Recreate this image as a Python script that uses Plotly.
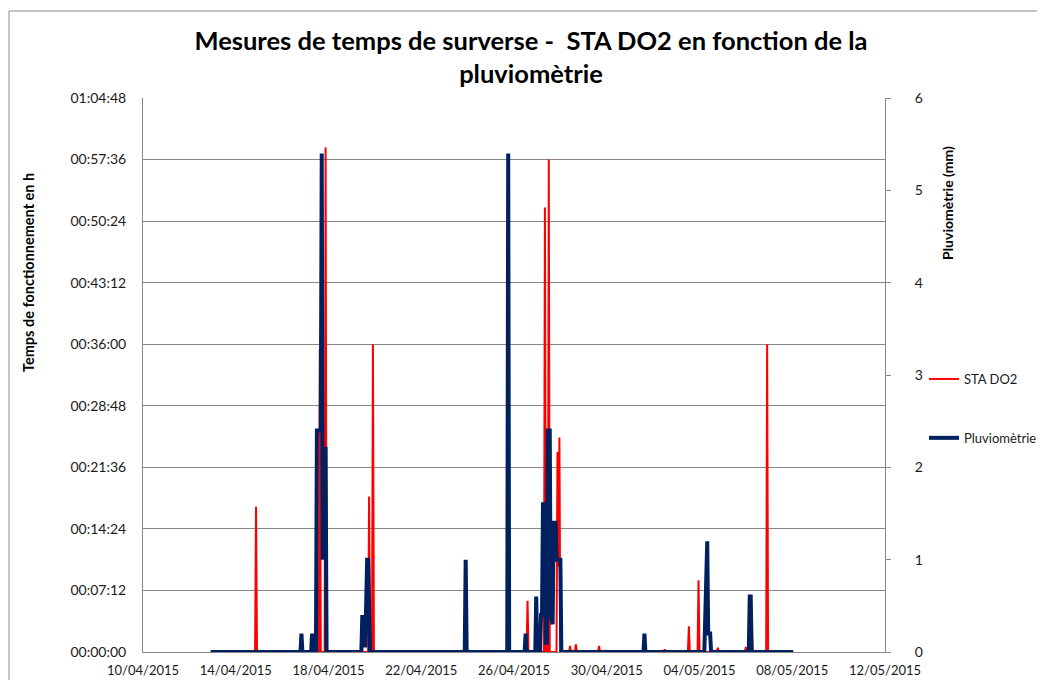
import plotly.graph_objects as go

# ---------------- data ----------------
sta_time = [
    "2015-04-13 00:00", "2015-04-14 20:00", "2015-04-14 21:00", "2015-04-14 22:00",
    "2015-04-17 14:00", "2015-04-17 15:00", "2015-04-17 16:00", "2015-04-17 20:00",
    "2015-04-17 21:00", "2015-04-17 22:00",
    "2015-04-19 17:00", "2015-04-19 18:00", "2015-04-19 19:00", "2015-04-19 21:00",
    "2015-04-19 22:00", "2015-04-19 23:00",
    "2015-04-26 13:00", "2015-04-26 14:00", "2015-04-26 15:00",
    "2015-04-27 07:00", "2015-04-27 08:00", "2015-04-27 09:00", "2015-04-27 10:00",
    "2015-04-27 11:00", "2015-04-27 12:00", "2015-04-27 13:00",
    "2015-04-27 20:00", "2015-04-27 21:00", "2015-04-27 22:00", "2015-04-27 23:00",
    "2015-04-28 00:00",
    "2015-04-28 09:00", "2015-04-28 10:00", "2015-04-28 11:00",
    "2015-04-28 15:00", "2015-04-28 16:00", "2015-04-28 17:00",
    "2015-04-29 15:00", "2015-04-29 16:00", "2015-04-29 17:00",
    "2015-04-29 22:00", "2015-04-29 23:00", "2015-04-30 00:00",
    "2015-05-02 11:00", "2015-05-02 12:00", "2015-05-02 13:00",
    "2015-05-03 12:00", "2015-05-03 13:00", "2015-05-03 14:00",
    "2015-05-03 22:00", "2015-05-03 23:00", "2015-05-04 00:00",
    "2015-05-04 18:00", "2015-05-04 19:00", "2015-05-04 20:00",
    "2015-05-05 23:00", "2015-05-06 00:00", "2015-05-06 01:00",
    "2015-05-06 05:00", "2015-05-06 06:00", "2015-05-06 07:00",
    "2015-05-06 21:00", "2015-05-06 22:00", "2015-05-06 23:00",
    "2015-05-08 01:00",
]
# overflow duration, in minutes
sta_minutes = [
    0, 0, 17.0, 0,
    0, 35.4, 0, 0,
    59.0, 0,
    0, 18.2, 0, 0,
    36.0, 0,
    0, 6.0, 0,
    0, 52.0, 0, 8.3,
    0, 57.6, 0,
    0, 23.4, 10.0, 25.1,
    0,
    0, 0.7, 0,
    0, 0.9, 0,
    0, 0.7, 0,
    0, 0.2, 0,
    0, 0.3, 0,
    0, 3.0, 0,
    0, 8.4, 0,
    0, 0.5, 0,
    0, 0.6, 0,
    0, 3.2, 0,
    0, 36.0, 0,
    0,
]

pluvio_time = [
    "2015-04-12 22:00",
    "2015-04-16 19:00", "2015-04-16 20:00", "2015-04-16 21:00",
    "2015-04-17 06:00", "2015-04-17 07:00", "2015-04-17 08:00",
    "2015-04-17 11:00", "2015-04-17 12:00", "2015-04-17 16:00", "2015-04-17 17:00",
    "2015-04-17 18:00", "2015-04-17 19:00", "2015-04-17 21:00", "2015-04-17 22:00",
    "2015-04-19 10:00", "2015-04-19 11:00", "2015-04-19 14:00", "2015-04-19 16:00",
    "2015-04-19 17:00", "2015-04-19 19:00",
    "2015-04-23 21:00", "2015-04-23 22:00", "2015-04-23 23:00",
    "2015-04-25 17:00", "2015-04-25 18:00", "2015-04-25 19:00",
    "2015-04-26 11:00", "2015-04-26 12:00", "2015-04-26 13:00",
    "2015-04-26 22:00", "2015-04-26 23:00", "2015-04-27 00:00",
    "2015-04-27 03:00", "2015-04-27 04:00", "2015-04-27 05:00", "2015-04-27 06:00",
    "2015-04-27 08:00", "2015-04-27 09:00", "2015-04-27 10:00", "2015-04-27 11:00",
    "2015-04-27 13:00", "2015-04-27 14:00", "2015-04-27 16:00", "2015-04-27 17:00",
    "2015-04-27 19:00", "2015-04-27 20:00", "2015-04-28 00:00", "2015-04-28 01:00",
    "2015-05-01 14:00", "2015-05-01 15:00", "2015-05-01 16:00",
    "2015-05-04 05:00", "2015-05-04 07:00", "2015-05-04 08:00", "2015-05-04 09:00",
    "2015-05-04 11:00", "2015-05-04 12:00",
    "2015-05-06 03:00", "2015-05-06 04:00", "2015-05-06 05:00", "2015-05-06 06:00",
    "2015-05-08 01:00",
]
pluvio_mm = [
    0,
    0, 0.2, 0,
    0, 0.2, 0,
    0, 2.4, 2.4, 5.4,
    1.0, 2.2, 2.2, 0,
    0, 0.4, 0.05, 1.0,
    1.0, 0,
    0, 1.0, 0,
    0, 5.4, 0,
    0, 0.2, 0,
    0, 0.6, 0,
    0, 0.4, 0.4, 1.6,
    1.6, 0.1, 0.1, 2.4,
    2.4, 0.4, 0.3, 1.4,
    1.4, 1.0, 1.0, 0,
    0, 0.2, 0,
    0, 1.2, 1.2, 0.2,
    0.2, 0,
    0, 0.6, 0.6, 0,
    0,
]

x_tick_dates = ["2015-04-10", "2015-04-14", "2015-04-18", "2015-04-22", "2015-04-26",
                "2015-04-30", "2015-05-04", "2015-05-08", "2015-05-12"]
x_tick_labels = ["10/04/2015", "14/04/2015", "18/04/2015", "22/04/2015", "26/04/2015",
                 "30/04/2015", "04/05/2015", "08/05/2015", "12/05/2015"]
y_tick_minutes = [0, 7.2, 14.4, 21.6, 28.8, 36.0, 43.2, 50.4, 57.6, 64.8]
y_tick_labels = ["00:00:00", "00:07:12", "00:14:24", "00:21:36", "00:28:48",
                 "00:36:00", "00:43:12", "00:50:24", "00:57:36", "01:04:48"]

# ---------------- figure ----------------
# The page body adds an 8px margin, so the figure is 8px smaller than the window
OFF = 8
W, H = 1045 - OFF, 680 - OFF
# plot area in window pixels
L, R, T, B = 143, 885, 98, 652


def px_x(p):
    return (p - L) / (R - L)


def px_y(p):
    return (B - p) / (B - T)


FONT = "Lato, 'Open Sans', sans-serif"
GRID = "#878787"

fig = go.Figure()
fig.add_trace(go.Scatter(
    x=sta_time, y=sta_minutes, name="STA DO2", mode="lines",
    line=dict(color="#FF0000", width=2), yaxis="y", legendgroup="a",
))
fig.add_trace(go.Scatter(
    x=pluvio_time, y=pluvio_mm, name="Pluviomètrie", mode="lines",
    line=dict(color="#002060", width=4), yaxis="y2", legendgroup="b",
))

fig.update_layout(
    width=W, height=H,
    margin=dict(l=L - OFF, r=W - (R - OFF), t=T - OFF, b=H - (B - OFF), pad=0,
                autoexpand=False),
    paper_bgcolor="white", plot_bgcolor="white",
    font=dict(family=FONT, size=13, color="#1a1a1a"),
    title=dict(
        text="Mesures de temps de surverse -  STA DO2 en fonction de la<br>pluviomètrie",
        font=dict(family=FONT, size=25.5, color="#000000", weight="bold"),
        x=(531 - OFF) / W, xanchor="center", xref="container",
        y=1 - 42 / H, yanchor="middle", yref="container",
    ),
    xaxis=dict(
        type="date", range=["2015-04-10", "2015-05-12"],
        tickvals=x_tick_dates, ticktext=x_tick_labels,
        showgrid=False, showline=True, linecolor=GRID, linewidth=1,
        ticks="", ticklabelstandoff=6, zeroline=False,
        tickfont=dict(size=13, color="#1a1a1a"),
    ),
    yaxis=dict(
        range=[0, 64.8], tickvals=y_tick_minutes, ticktext=y_tick_labels,
        showgrid=True, gridcolor=GRID, gridwidth=1,
        showline=True, linecolor=GRID, linewidth=1, zeroline=False,
        ticks="", ticklabelstandoff=13,
        tickfont=dict(size=14, color="#1a1a1a"),
    ),
    yaxis2=dict(
        overlaying="y", side="right", range=[0, 6], dtick=1, tick0=0,
        showgrid=False, showline=True, linecolor=GRID, linewidth=1, zeroline=False,
        ticks="outside", ticklen=5, tickcolor=GRID, ticklabelstandoff=21,
        tickfont=dict(size=14, color="#1a1a1a"),
    ),
    legend=dict(
        x=px_x(924), y=px_y(364), xanchor="left", yanchor="top",
        bgcolor="rgba(0,0,0,0)", borderwidth=0,
        font=dict(family=FONT, size=13, color="#1a1a1a"),
        tracegroupgap=39, itemwidth=30,
    ),
    annotations=[
        dict(text="<b>Temps de fonctionnement en h</b>", textangle=-90,
             x=px_x(28), y=px_y(273), xref="paper", yref="paper",
             xanchor="center", yanchor="middle", showarrow=False,
             font=dict(family=FONT, size=14.5, color="#000000")),
        dict(text="<b>Pluviomètrie (mm)</b>", textangle=-90,
             x=px_x(947), y=px_y(203), xref="paper", yref="paper",
             xanchor="center", yanchor="middle", showarrow=False,
             font=dict(family=FONT, size=14, color="#000000")),
    ],
    shapes=[
        dict(type="rect", xref="paper", yref="paper",
             x0=px_x(9), x1=px_x(1070), y0=px_y(720), y1=px_y(11),
             line=dict(color="#8c8c8c", width=1), fillcolor="rgba(0,0,0,0)",
             layer="above"),
    ],
)

fig.write_html("out.html")
